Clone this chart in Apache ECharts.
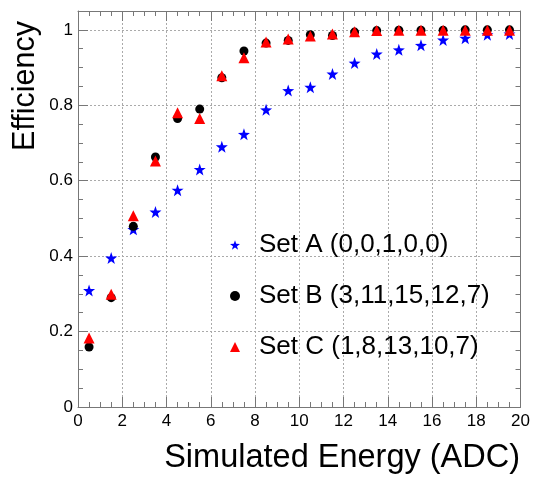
<!DOCTYPE html>
<html>
<head>
<meta charset="utf-8">
<script src="https://cdn.jsdelivr.net/npm/echarts@6/dist/echarts.min.js"></script>
<style>
  html, body { margin: 0; padding: 0; background: #fff; }
  #main { width: 533px; height: 477px; }
</style>
</head>
<body>
<div id="main"></div>
<script>
// bin centres (ADC)
var energy = [0.5, 1.5, 2.5, 3.5, 4.5, 5.5, 6.5, 7.5, 8.5, 9.5, 10.5, 11.5, 12.5, 13.5, 14.5, 15.5, 16.5, 17.5, 18.5, 19.5];
var setA = [0.309, 0.395, 0.471, 0.517, 0.575, 0.630, 0.690, 0.723, 0.788, 0.839, 0.848, 0.883, 0.912, 0.936, 0.947, 0.959, 0.973, 0.978, 0.987, 0.989];
var setB = [0.159, 0.290, 0.479, 0.663, 0.765, 0.790, 0.873, 0.944, 0.965, 0.972, 0.987, 0.985, 0.994, 0.998, 0.999, 0.999, 0.999, 1.0, 1.0, 1.0];
var setC = [0.183, 0.299, 0.507, 0.652, 0.780, 0.765, 0.878, 0.926, 0.968, 0.976, 0.984, 0.989, 0.995, 0.998, 0.999, 0.999, 0.999, 0.999, 0.999, 0.999];
var names = ["Set A (0,0,1,0,0)", "Set B (3,11,15,12,7)", "Set C (1,8,13,10,7)"];

var FONT = "'Liberation Sans', Arial, sans-serif";
var STAR = "path://M0,-10L2.35,-3.24L9.51,-3.09L3.8,1.24L5.88,8.09L0,4L-5.88,8.09L-3.8,1.24L-9.51,-3.09L-2.35,-3.24Z";

function pairs(ys) {
  return ys.map(function (y, i) { return [energy[i], y]; });
}

var frameLine = { show: true, onZero: false, lineStyle: { color: "#777", width: 1 } };
var majTick = { show: true, inside: true, length: 10, lineStyle: { color: "#777" } };
var minTick = { show: true, splitNumber: 4, length: 5, lineStyle: { color: "#777" } };
var gridLine = { show: true, lineStyle: { color: "#aaa", type: [2, 2], width: 1 } };

var chart = echarts.init(document.getElementById("main"));
var option = {
  animation: false,
  grid: { left: 78, right: 12, top: 11, bottom: 70, containLabel: false },
  xAxis: [
    {
      type: "value", min: 0, max: 20, interval: 2, position: "bottom",
      axisLine: frameLine, axisTick: majTick, minorTick: minTick,
      splitLine: gridLine,
      axisLabel: { color: "#000", fontSize: 17, fontFamily: FONT, margin: 6 }
    },
    {
      type: "value", min: 0, max: 20, interval: 2, position: "top",
      axisLine: frameLine, axisTick: majTick, minorTick: minTick,
      splitLine: { show: false }, axisLabel: { show: false }
    }
  ],
  yAxis: [
    {
      type: "value", min: 0, max: 1.05, interval: 0.2, position: "left",
      axisLine: frameLine, axisTick: majTick, minorTick: minTick,
      splitLine: gridLine,
      axisLabel: { color: "#000", fontSize: 17, fontFamily: FONT, margin: 5, showMaxLabel: false }
    },
    {
      type: "value", min: 0, max: 1.05, interval: 0.2, position: "right",
      axisLine: frameLine, axisTick: majTick, minorTick: minTick,
      splitLine: { show: false }, axisLabel: { show: false }
    }
  ],
  legend: {
    orient: "vertical", left: 225, top: 227, itemGap: 25, padding: 5,
    itemWidth: 10, itemHeight: 10,
    textStyle: { color: "#000", fontSize: 26, lineHeight: 26, fontFamily: FONT, padding: [0, 0, 0, 14] },
    data: [
      { name: names[0], itemStyle: { opacity: 1 } },
      { name: names[1], icon: "circle", itemStyle: { opacity: 1 } },
      { name: names[2], icon: "triangle", itemStyle: { opacity: 1 } }
    ]
  },
  series: [
    { name: names[0], type: "scatter", data: pairs(setA), symbol: STAR, symbolSize: 12, itemStyle: { color: "#0000ff", opacity: 1 } },
    { name: names[1], type: "scatter", data: pairs(setB), symbol: "circle", symbolSize: 9, itemStyle: { color: "#000", opacity: 1 } },
    { name: names[2], type: "scatter", data: pairs(setC), symbol: "triangle", symbolSize: 11, itemStyle: { color: "#ff0000", opacity: 1 } }
  ],
  graphic: [
    {
      type: "text", right: 13, top: 442,
      style: { text: "Simulated Energy (ADC)", font: "32.5px " + FONT, fill: "#000" }
    },
    {
      type: "text", x: 26, y: 21, rotation: Math.PI / 2,
      style: { text: "Efficiency", font: "30.5px " + FONT, fill: "#000", align: "right", verticalAlign: "middle" }
    }
  ]
};
chart.setOption(option);
</script>
</body>
</html>
